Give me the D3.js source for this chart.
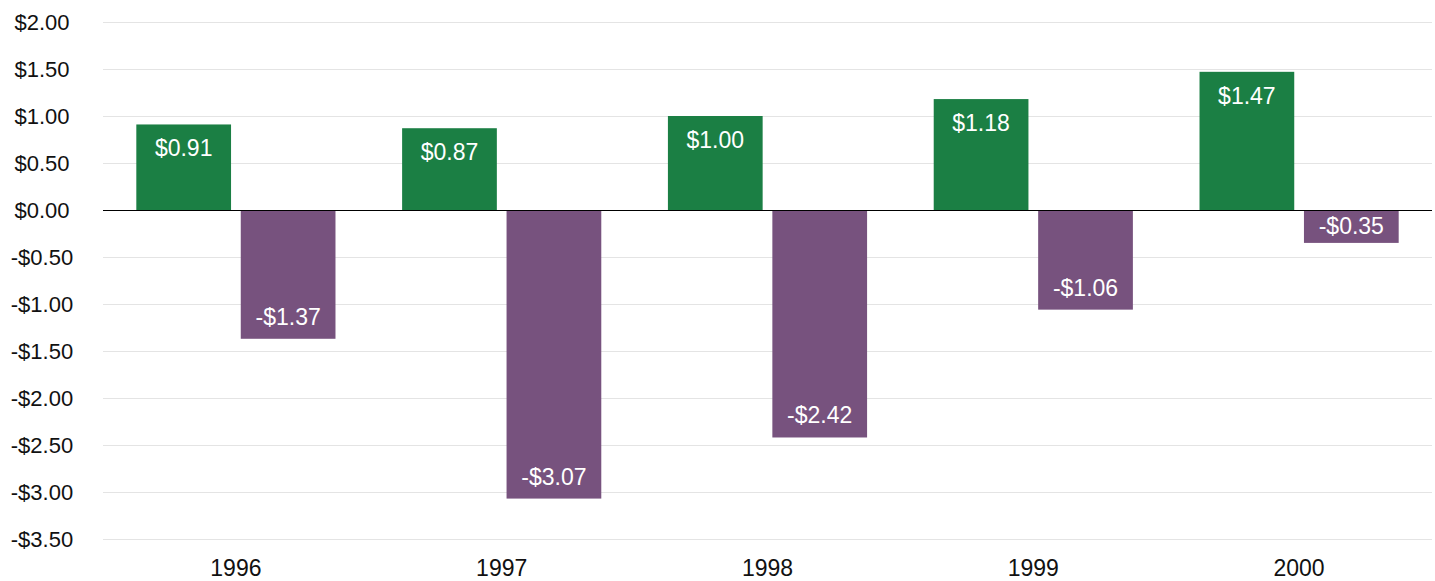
<!DOCTYPE html>
<html>
<head>
    <meta charset="utf-8">
    <title>Bar Chart</title>
    <script src="https://d3js.org/d3.v7.min.js"></script>
    <style>
        body { margin: 0; background: #fff; }
        svg { font-family: "Liberation Sans", Arial, Helvetica, sans-serif; }
    </style>
</head>
<body>
    <svg width="1435" height="581" id="chart"></svg>
    <script>
        const years = ["1996", "1997", "1998", "1999", "2000"]
        const seriesA = [0.91, 0.87, 1.00, 1.18, 1.47]
        const seriesB = [-1.37, -3.07, -2.42, -1.06, -0.35]
        const yTicks = [2, 1.5, 1, 0.5, 0, -0.5, -1, -1.5, -2, -2.5, -3, -3.5]

        const svg = d3.select("#chart")
        const margin = { top: 22, bottom: 42, left: 103, right: 3 }
        const width = +svg.attr("width")
        const height = +svg.attr("height")

        const x = d3.scaleBand()
            .domain(years)
            .range([margin.left, width - margin.right])
            .padding(0)

        const xInner = d3.scaleBand()
            .domain(["a", "b"])
            .range([0, x.bandwidth()])
            .paddingInner(0.093)
            .paddingOuter(0.319)

        const y = d3.scaleLinear()
            .domain([-3.5, 2])
            .range([height - margin.bottom, margin.top])

        const money = v => (v < 0 ? "-$" : "$") + Math.abs(v).toFixed(2)

        // grid
        svg.append("g")
            .selectAll("line")
            .data(yTicks.filter(d => d !== 0))
            .join("line")
            .attr("x1", margin.left)
            .attr("x2", width - margin.right)
            .attr("y1", d => Math.round(y(d)) + 0.5)
            .attr("y2", d => Math.round(y(d)) + 0.5)
            .attr("stroke", "#e4e4e4")
            .attr("stroke-width", 1)

        // y labels
        svg.append("g")
            .selectAll("text")
            .data(yTicks)
            .join("text")
            .attr("x", 42)
            .attr("y", d => y(d))
            .attr("dy", "0.36em")
            .attr("text-anchor", "middle")
            .attr("font-size", 22)
            .attr("fill", "#111")
            .text(money)

        // x labels
        svg.append("g")
            .selectAll("text")
            .data(years)
            .join("text")
            .attr("x", d => x(d) + x.bandwidth() / 2)
            .attr("y", 576)
            .attr("text-anchor", "middle")
            .attr("font-size", 23)
            .attr("fill", "#111")
            .text(d => d)

        const rows = years.map((yr, i) => ({ year: yr, a: seriesA[i], b: seriesB[i] }))

        const g = svg.append("g")
        const groups = g.selectAll("g")
            .data(rows)
            .join("g")
            .attr("transform", d => `translate(${x(d.year)},0)`)

        // positive bars
        groups.append("rect")
            .attr("x", xInner("a"))
            .attr("width", xInner.bandwidth())
            .attr("y", d => y(d.a))
            .attr("height", d => y(0) - y(d.a))
            .attr("fill", "#1b7f44")

        groups.append("text")
            .attr("x", xInner("a") + xInner.bandwidth() / 2)
            .attr("y", d => y(d.a) + 32)
            .attr("text-anchor", "middle")
            .attr("font-size", 23)
            .attr("fill", "#fff")
            .text(d => money(d.a))

        // negative bars
        groups.append("rect")
            .attr("x", xInner("b"))
            .attr("width", xInner.bandwidth())
            .attr("y", y(0))
            .attr("height", d => y(d.b) - y(0))
            .attr("fill", "#77527e")

        groups.append("text")
            .attr("x", xInner("b") + xInner.bandwidth() / 2)
            .attr("y", d => {
                const h = y(d.b) - y(0)
                return h < 50 ? y(0) + h / 2 + 8 : y(d.b) - 14
            })
            .attr("text-anchor", "middle")
            .attr("font-size", 23)
            .attr("fill", "#fff")
            .text(d => money(d.b))

        // zero line
        svg.append("line")
            .attr("x1", margin.left)
            .attr("x2", width - margin.right)
            .attr("y1", Math.round(y(0)) + 0.5)
            .attr("y2", Math.round(y(0)) + 0.5)
            .attr("stroke", "#000")
            .attr("stroke-width", 1.2)
    </script>
</body>
</html>
